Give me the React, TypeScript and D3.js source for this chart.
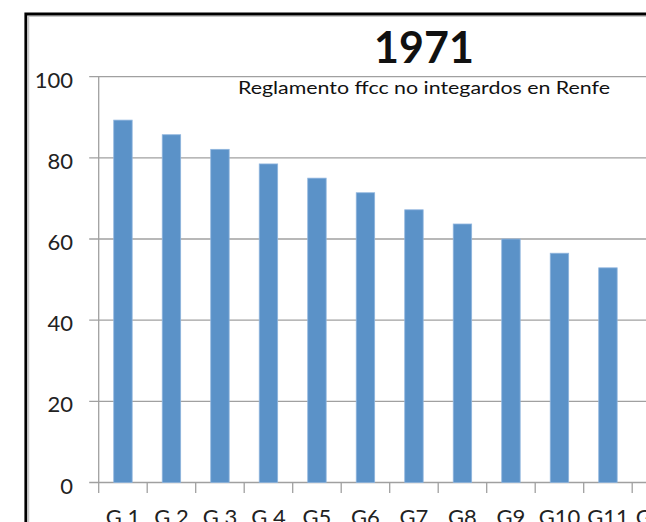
import React, { useEffect, useRef } from 'react'
import * as d3 from 'd3'

const title = '1971'
const subtitle = 'Reglamento ffcc no integardos en Renfe'
const categories = ['G 1', 'G 2', 'G 3', 'G 4', 'G5', 'G6', 'G7', 'G8', 'G9', 'G10', 'G11', 'G12']
const values = [89.3, 85.7, 82.1, 78.5, 75.0, 71.4, 67.2, 63.7, 60.0, 56.5, 52.9, 49.4]
const yTicks = [0, 20, 40, 60, 80, 100]

const FONT = 'Lato, "Open Sans", sans-serif'

export default function App() {
  const ref = useRef<SVGSVGElement>(null)

  useEffect(() => {
    const svg = d3.select(ref.current)
    svg.selectAll('*').remove()

    const left = 98.7
    const top = 76.7
    const bottom = 482.5
    const step = 48.5
    const right = left + step * categories.length

    const x = d3.scaleBand()
      .domain(categories)
      .range([left, right])
      .paddingInner(0.62)
      .paddingOuter(0.31)
    const y = d3.scaleLinear()
      .domain([0, 100])
      .range([bottom, top])

    // chart area + border
    svg.append('rect')
      .attr('x', 0).attr('y', 0)
      .attr('width', 646).attr('height', 522)
      .attr('fill', '#fff')
    svg.append('line')
      .attr('x1', 28.5).attr('x2', 28.5)
      .attr('y1', 16).attr('y2', 522)
      .attr('stroke', '#c8c8c8').attr('stroke-width', 1.5)
    svg.append('line')
      .attr('x1', 28).attr('x2', 646)
      .attr('y1', 16.3).attr('y2', 16.3)
      .attr('stroke', '#c8c8c8').attr('stroke-width', 1.2)
    svg.append('path')
      .attr('d', 'M25.8,530 V14 H660')
      .attr('fill', 'none')
      .attr('stroke', '#000')
      .attr('stroke-width', 2.8)

    // gridlines
    svg.append('g')
      .selectAll('line')
      .data(yTicks)
      .enter()
      .append('line')
      .attr('x1', left - 9.5)
      .attr('x2', right)
      .attr('y1', (d) => y(d))
      .attr('y2', (d) => y(d))
      .attr('stroke', '#a0a0a0')
      .attr('stroke-width', 1.3)

    // y axis line
    svg.append('line')
      .attr('x1', left).attr('x2', left)
      .attr('y1', top).attr('y2', bottom)
      .attr('stroke', '#a0a0a0')
      .attr('stroke-width', 1.3)

    svg.append('g')
      .selectAll('text')
      .data(yTicks)
      .enter()
      .append('text')
      .attr('x', 73)
      .attr('y', (d) => y(d) + 11)
      .attr('text-anchor', 'end')
      .attr('font-family', FONT)
      .attr('font-size', 22)
      .attr('fill', '#222')
      .text((d) => d)

    // bars
    svg.append('g')
      .selectAll('rect')
      .data(values)
      .enter()
      .append('rect')
      .attr('x', (d, i) => x(categories[i]) as number)
      .attr('y', (d) => y(d))
      .attr('width', x.bandwidth())
      .attr('height', (d) => bottom - y(d))
      .attr('fill', '#5b92c8')
      .attr('stroke', '#8fb5de')
      .attr('stroke-width', 0.8)

    // category ticks
    const bounds = d3.range(categories.length + 1).map((i) => left + i * x.step())
    svg.append('g')
      .selectAll('line')
      .data(bounds)
      .enter()
      .append('line')
      .attr('x1', (d) => d)
      .attr('x2', (d) => d)
      .attr('y1', bottom)
      .attr('y2', bottom + 10.5)
      .attr('stroke', '#a0a0a0')
      .attr('stroke-width', 1.3)

    svg.append('g')
      .selectAll('text')
      .data(categories)
      .enter()
      .append('text')
      .attr('x', (d) => (x(d) as number) + x.bandwidth() / 2)
      .attr('y', 525)
      .attr('text-anchor', 'middle')
      .attr('font-family', FONT)
      .attr('font-size', 22)
      .attr('fill', '#222')
      .text((d) => d)

    // titles
    svg.append('text')
      .attr('x', 424)
      .attr('y', 62.5)
      .attr('text-anchor', 'middle')
      .attr('font-family', FONT)
      .attr('font-weight', 'bold')
      .attr('font-size', 43)
      .attr('fill', '#111')
      .text(title)

    svg.append('text')
      .attr('x', 424)
      .attr('y', 94)
      .attr('text-anchor', 'middle')
      .attr('font-family', FONT)
      .attr('font-size', 17)
      .attr('textLength', 372)
      .attr('lengthAdjust', 'spacingAndGlyphs')
      .attr('fill', '#111')
      .text(subtitle)
  }, [])

  return (
    <svg
      ref={ref}
      width={646}
      height={522}
      style={{ position: 'absolute', left: 0, top: 0 }}
    />
  )
}
